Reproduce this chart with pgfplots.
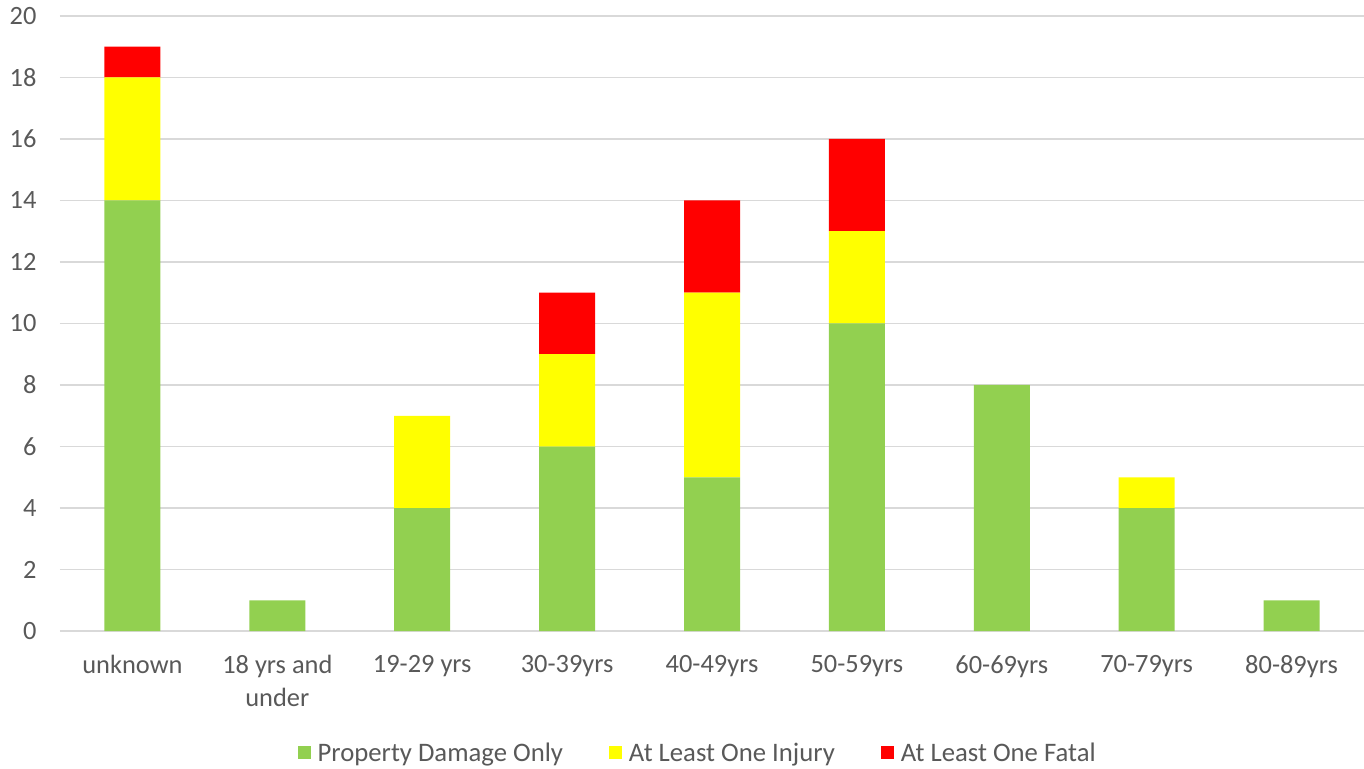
\documentclass[border=0pt]{standalone}
\usepackage{pgfplots}
\pgfplotsset{compat=1.18}
\usepackage{fontspec}
\setmainfont{Carlito}
\definecolor{pdo}{HTML}{92D050}
\definecolor{inj}{HTML}{FFFF00}
\definecolor{fat}{HTML}{FF0000}
\definecolor{txt}{HTML}{595959}
\definecolor{grd}{HTML}{D9D9D9}
\begin{document}
\begin{tikzpicture}
\begin{axis}[
  at={(0,0)}, anchor=south west,
  scale only axis, width=1304bp, height=615bp,
  ybar stacked, bar width=56bp,
  xmin=-0.5, xmax=8.5, ymin=0, ymax=20,
  xtick={0,1,2,3,4,5,6,7,8},
  xticklabels={unknown,{18 yrs and\\under},19-29 yrs,30-39yrs,40-49yrs,50-59yrs,60-69yrs,70-79yrs,80-89yrs},
  ytick={0,2,...,20},
  ymajorgrids, grid style={draw=grd, line width=1.3bp},
  axis line style={draw=none},
  major tick length=0pt,
  /pgf/number format/assume math mode=true,
  ticklabel style={font=\fontsize{26.5}{33}\selectfont, text=txt},
  xticklabel style={align=center, yshift=-21bp},
  yticklabel style={xshift=-20bp},
  legend columns=3,
  legend style={at={(0.489,-0.198)}, anchor=center, draw=none, font=\fontsize{26.8}{30}\selectfont, text=txt,
    /tikz/every odd column/.append style={column sep=5bp},
    /tikz/every even column/.append style={column sep=44bp}},
  legend image code/.code={\fill[#1,draw=none] (0bp,-6.5bp) rectangle (13bp,6.5bp);},
]
\addplot[fill=pdo, draw=none] coordinates {(0,14) (1,1) (2,4) (3,6) (4,5) (5,10) (6,8) (7,4) (8,1)};
\addplot[fill=inj, draw=none] coordinates {(0,4) (1,0) (2,3) (3,3) (4,6) (5,3) (6,0) (7,1) (8,0)};
\addplot[fill=fat, draw=none] coordinates {(0,1) (1,0) (2,0) (3,2) (4,3) (5,3) (6,0) (7,0) (8,0)};
\legend{Property Damage Only, At Least One Injury, At Least One Fatal}
\end{axis}
\pgfresetboundingbox
\path[use as bounding box] (-60bp,-138bp) rectangle (1304bp,631bp);
\end{tikzpicture}
\end{document}
